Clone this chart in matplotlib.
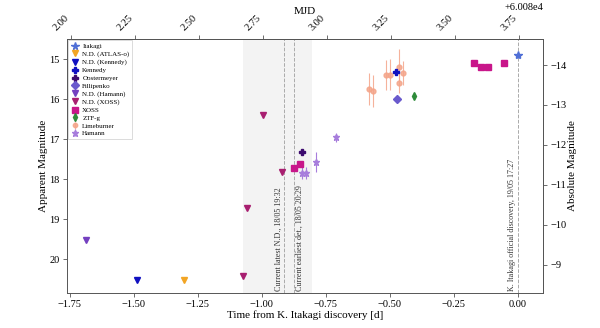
import matplotlib
matplotlib.use("Agg")
import matplotlib.pyplot as plt
from matplotlib.ticker import MultipleLocator, FixedLocator, FuncFormatter

plt.rcParams['font.family'] = ['Liberation Serif', 'DejaVu Serif']
plt.rcParams['mathtext.fontset'] = 'dejavuserif'

# Reference epoch (MJD), top-axis offset and distance modulus
T0_MJD = 60083.745
MJD_OFFSET = 60080
DIST_MOD = 29.14

# Top-axis MJD ticks (relative to MJD_OFFSET)
mjd_ticks = [2.00, 2.25, 2.50, 2.75, 3.00, 3.25, 3.50, 3.75]

# Times relative to discovery [d] and apparent magnitudes
itakagi_t = [0.0]
itakagi_m = [14.89]

nd_atlas_t = [-1.305]
nd_atlas_m = [20.52]

nd_kennedy_t = [-1.485]
nd_kennedy_m = [20.52]

kennedy_t = [-0.476]
kennedy_m = [15.31]

oostermeyer_t = [-0.841]
oostermeyer_m = [17.31]

fillipenko_t = [-0.471]
fillipenko_m = [16.0]

nd_hamann_t = [-1.686]
nd_hamann_m = [19.52]

nd_xoss_t = [-1.075, -1.058, -0.995, -0.92]
nd_xoss_m = [20.41, 18.71, 16.39, 17.81]

xoss_t = [-0.874, -0.85, -0.173, -0.144, -0.115, -0.055]
xoss_m = [17.71, 17.62, 15.10, 15.20, 15.20, 15.10]

ztf_t = [-0.407]
ztf_m = [15.91]
ztf_e = [0.08]

lime_t = [-0.58, -0.566, -0.515, -0.499, -0.466, -0.464, -0.448]
lime_m = [15.75, 15.80, 15.39, 15.38, 15.18, 15.58, 15.34]
lime_e = [0.40, 0.40, 0.38, 0.38, 0.45, 0.25, 0.30]

hamann_t = [-0.843, -0.829, -0.79, -0.709]
hamann_m = [17.83, 17.83, 17.56, 16.95]
hamann_e = [0.15, 0.15, 0.25, 0.12]

# Key epochs (days from discovery)
latest_nd = -0.913
earliest_det = -0.874
discovery = 0.0
shade_span = (-1.072, -0.804)

fig = plt.figure(figsize=(6.0, 3.28), dpi=100)
ax = fig.add_axes([0.1117, 0.1076, 0.7933, 0.7734])

ax.axvspan(*shade_span, color='#f3f3f3', zorder=0, lw=0)
for xv in (latest_nd, earliest_det, discovery):
    ax.axvline(xv, color='#aaaaaa', ls='--', lw=0.7, zorder=1)

ms = 4.5
ax.plot(itakagi_t, itakagi_m, ls='none', marker='*', color='#4f6fd6', ms=6, label='Itakagi', zorder=5)
ax.plot(nd_atlas_t, nd_atlas_m, ls='none', marker='v', color='#f2a524', ms=ms, label='N.D. (ATLAS-o)', zorder=5)
ax.plot(nd_kennedy_t, nd_kennedy_m, ls='none', marker='v', color='#1010c0', ms=ms, label='N.D. (Kennedy)', zorder=5)
ax.plot(kennedy_t, kennedy_m, ls='none', marker='P', color='#1010c0', ms=ms, label='Kennedy', zorder=5)
ax.plot(oostermeyer_t, oostermeyer_m, ls='none', marker='P', color='#3c0a6e', ms=ms, label='Oostermeyer', zorder=5)
ax.plot(fillipenko_t, fillipenko_m, ls='none', marker='D', color='#6a5acd', ms=4, label='Fillipenko', zorder=5)
ax.plot(nd_hamann_t, nd_hamann_m, ls='none', marker='v', color='#7440c0', ms=ms, label='N.D. (Hamann)', zorder=5)
ax.plot(nd_xoss_t, nd_xoss_m, ls='none', marker='v', color='#a81f70', ms=ms, label='N.D. (XOSS)', zorder=5)
ax.plot(xoss_t, xoss_m, ls='none', marker='s', color='#c8168a', ms=ms, label='XOSS', zorder=5)
ax.errorbar(ztf_t, ztf_m, yerr=ztf_e, ls='none', marker='d', color='#2e8b3a', ms=4, elinewidth=0.8,
            label='ZTF-g', zorder=5)
ax.errorbar(lime_t, lime_m, yerr=lime_e, ls='none', marker='o', color='#f4a58a', ms=3.5, elinewidth=0.8,
            alpha=0.85, label='Limeburner', zorder=4)
ax.errorbar(hamann_t, hamann_m, yerr=hamann_e, ls='none', marker='*', color='#a77ddc', ms=5, elinewidth=0.8,
            label='Hamann', zorder=4)

ax.set_xlim(-1.76, 0.098)
ax.set_ylim(20.835, 14.49)
ax.xaxis.set_major_locator(MultipleLocator(0.25))
ax.yaxis.set_major_locator(MultipleLocator(1))

tfs = 7.5
ax.tick_params(labelsize=tfs, color='#555555', length=3, width=0.6, pad=2.5)
for s in ax.spines.values():
    s.set_color('#555555')
    s.set_linewidth(0.7)
ax.set_xlabel('Time from K. Itakagi discovery [d]', fontsize=8, labelpad=0.5)
ax.set_ylabel('Apparent Magnitude', fontsize=8, labelpad=0.5)

# Vertical annotations along the key epochs
vfs = 5.8
ax.text(latest_nd - 0.006, 20.78, 'Current latest N.D., 18/05 19:32', rotation=90,
        ha='right', va='bottom', fontsize=vfs, color='#333333')
ax.text(earliest_det + 0.006, 20.78, 'Current earliest det., 18/05 20:29', rotation=90,
        ha='left', va='bottom', fontsize=vfs, color='#333333')
ax.text(discovery - 0.006, 20.78, 'K. Itakagi official discovery, 19/05 17:27', rotation=90,
        ha='right', va='bottom', fontsize=vfs, color='#333333')

# Top axis in MJD (labels relative to MJD_OFFSET)
top = ax.secondary_xaxis('top', functions=(lambda t: t + T0_MJD, lambda m: m - T0_MJD))
top.xaxis.set_major_locator(FixedLocator([MJD_OFFSET + v for v in mjd_ticks]))
top.xaxis.set_major_formatter(FuncFormatter(lambda v, p: f'{v - MJD_OFFSET:.2f}'))
top.tick_params(labelsize=tfs, color='#555555', length=3, width=0.6, pad=2)
for lbl in top.get_xticklabels():
    lbl.set_rotation(45)
    lbl.set_ha('right')
    lbl.set_rotation_mode('default')
top.set_xlabel('MJD', fontsize=8, labelpad=-1)
top.spines['top'].set_color('#555555')
top.spines['top'].set_linewidth(0.7)
fig.text(0.905, 1 - 7.5 / 328, f'+{MJD_OFFSET / 1e4:.3f}e4', ha='right', va='center', fontsize=tfs)

# Right axis in absolute magnitude
right = ax.secondary_yaxis('right', functions=(lambda m: m - DIST_MOD, lambda M: M + DIST_MOD))
right.yaxis.set_major_locator(MultipleLocator(1))
right.tick_params(labelsize=tfs, color='#555555', length=3, width=0.6, pad=2.5)
right.set_ylabel('Absolute Magnitude', fontsize=8, labelpad=1)
right.spines['right'].set_color('#555555')
right.spines['right'].set_linewidth(0.7)

leg = ax.legend(loc='upper left', fontsize=5, labelspacing=0.28, borderaxespad=0.2,
                handletextpad=0.4, borderpad=0.4, frameon=True, fancybox=False,
                handlelength=1.2, markerscale=0.9)
leg.get_frame().set_edgecolor('#cccccc')
leg.get_frame().set_linewidth(0.6)

fig.savefig('out.png', dpi=100)
